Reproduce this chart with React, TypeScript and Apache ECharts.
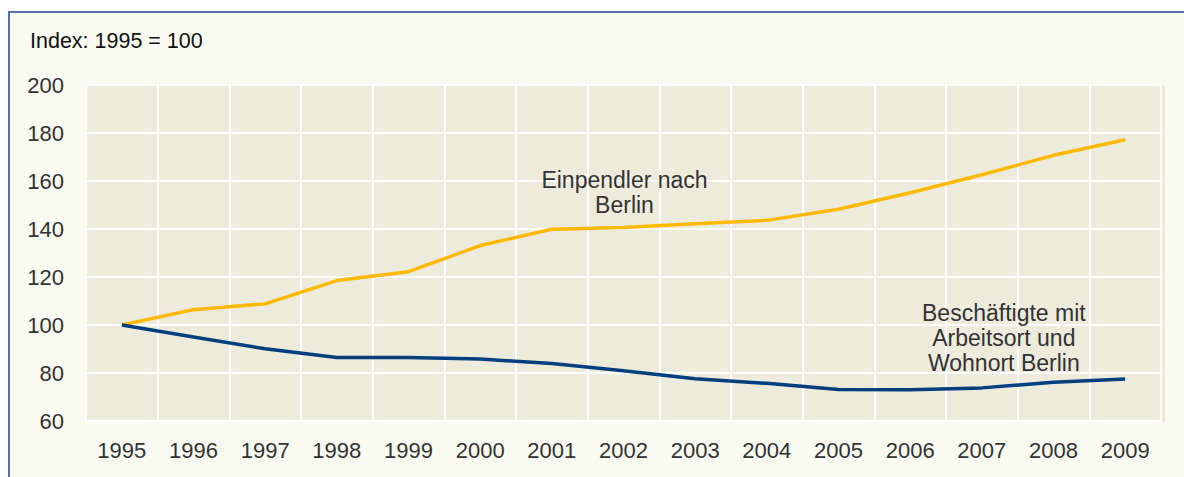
import React, { useEffect, useRef } from "react";
import * as echarts from "echarts";

const years = ["1995", "1996", "1997", "1998", "1999", "2000", "2001", "2002", "2003", "2004", "2005", "2006", "2007", "2008", "2009"];
const einpendler = [100, 106.4, 108.8, 118.5, 122.2, 133.1, 139.9, 140.6, 142.2, 143.6, 148.2, 155.1, 162.6, 170.7, 177.2];
const beschaeftigte = [100, 95, 90.1, 86.5, 86.5, 85.8, 84.0, 80.9, 77.6, 75.7, 73.1, 73.0, 73.8, 76.1, 77.5];
const yTicks = { min: 60, max: 200, interval: 20 };
const yAxisTitle = "Index: 1995 = 100";
const label1 = "Einpendler nach\nBerlin";
const label2 = "Beschäftigte mit\nArbeitsort und\nWohnort Berlin";

const FONT = "'Liberation Sans', Arial, sans-serif";

export default function App() {
  const ref = useRef<HTMLDivElement>(null);
  useEffect(() => {
    document.body.style.margin = "0";
    const chart = echarts.init(ref.current!, null, { renderer: "svg" });
    chart.setOption({
      animation: false,
      backgroundColor: "#ffffff",
      textStyle: { fontFamily: FONT },
      graphic: [
        {
          type: "rect",
          z: -10,
          shape: { x: 9, y: 12, width: 1200, height: 500 },
          style: { fill: "#F9FAF0", stroke: "#5470A8", lineWidth: 2 },
        },
        {
          type: "rect",
          z: -5,
          shape: { x: 86, y: 85, width: 1079, height: 337 },
          style: { fill: "#EDEBDC" },
        },
        {
          type: "text",
          x: 30,
          y: 30,
          style: { text: yAxisTitle, font: `21.5px ${FONT}`, fill: "#111" },
        },
      ],
      grid: { left: 86, top: 85, right: 23, bottom: 56, show: false },
      xAxis: {
        type: "category",
        data: years,
        boundaryGap: true,
        axisLine: { show: true, lineStyle: { color: "#ffffff", width: 2 } },
        axisTick: { show: false },
        axisLabel: { color: "#333", fontSize: 22, margin: 18, fontFamily: FONT },
        splitLine: { show: true, lineStyle: { color: "#ffffff", width: 2 } },
      },
      yAxis: {
        type: "value",
        min: yTicks.min,
        max: yTicks.max,
        interval: yTicks.interval,
        axisLine: { show: false },
        axisTick: { show: false },
        axisLabel: { color: "#333", fontSize: 22, margin: 22, fontFamily: FONT },
        splitLine: { show: true, lineStyle: { color: "#ffffff", width: 2 } },
      },
      series: [
        {
          type: "line",
          data: einpendler,
          symbol: "none",
          lineStyle: { color: "#FFBA00", width: 3.5 },
          z: 3,
          markPoint: {
            symbol: "circle",
            symbolSize: 0,
            data: [{ coord: ["2002", 160], value: 0 }],
            label: {
              show: true,
              formatter: label1,
              color: "#333",
              fontSize: 23,
              lineHeight: 25,
              align: "center",
              fontFamily: FONT,
              offset: [1, 11],
            },
          },
        },
        {
          type: "line",
          data: beschaeftigte,
          symbol: "none",
          lineStyle: { color: "#003F7F", width: 3.5 },
          z: 3,
          markPoint: {
            symbol: "circle",
            symbolSize: 0,
            data: [{ coord: ["2007", 90], value: 0 }],
            label: {
              show: true,
              formatter: label2,
              color: "#333",
              fontSize: 23,
              lineHeight: 25,
              align: "center",
              fontFamily: FONT,
              offset: [22, -11],
            },
          },
        },
      ],
    });
    return () => chart.dispose();
  }, []);
  return <div ref={ref} style={{ width: 1184, height: 477 }} />;
}
